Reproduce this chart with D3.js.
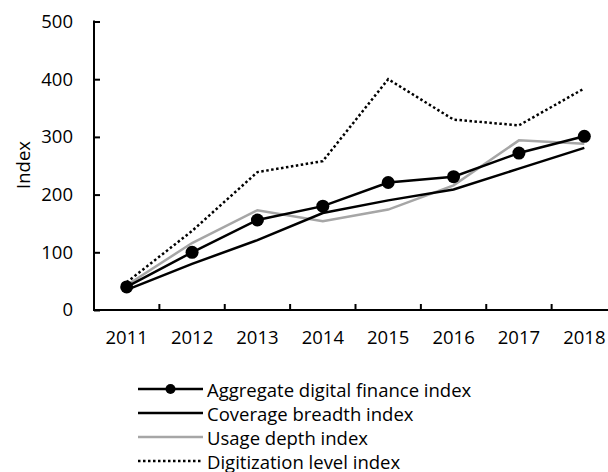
<!DOCTYPE html>
<html><head><meta charset="utf-8">
<script src="https://cdn.jsdelivr.net/npm/d3@7"></script>
<style>body{margin:0;background:#fff}svg{display:block}text{font-family:"Open Sans",sans-serif;fill:#000}</style>
</head><body><svg id="c" width="608" height="472"></svg>
<script>
const years = ["2011","2012","2013","2014","2015","2016","2017","2018"];
const aggregate = [40, 100, 156, 180, 221, 231, 272, 301];
const coverage = [35, 80, 121, 168, 190, 209, 245, 281];
const usage = [43, 116, 173, 154, 174, 216, 294, 288];
const digitization = [48, 137, 239, 258, 400, 330, 320, 384];
const yTicks = [0, 100, 200, 300, 400, 500];
const seriesNames = ["Aggregate digital finance index","Coverage breadth index","Usage depth index","Digitization level index"];

const svg = d3.select("#c");
const fs = "18.5px";
const x = d3.scaleBand().domain(years).range([94, 617]);
const y = d3.scaleLinear().domain([0, 500]).range([310, 21.5]);

// axes
const yAxis = svg.append("g").attr("transform","translate(94,0)")
  .call(d3.axisLeft(y).tickValues(yTicks).tickSize(-6).tickPadding(21));
yAxis.select(".domain").remove();
yAxis.selectAll(".tick line").attr("stroke","#000").attr("stroke-width",2);
yAxis.selectAll("text").style("font-size",fs).style("font-family","Open Sans");

const xAxis = svg.append("g").attr("transform","translate(0,310)")
  .call(d3.axisBottom(x).tickSize(0).tickPadding(21));
xAxis.select(".domain").remove();
xAxis.selectAll("text").style("font-size",fs).style("font-family","Open Sans");
// inward ticks at band boundaries
svg.append("g").selectAll("line").data(years).join("line")
  .attr("x1",d=>x(d) + x.step()).attr("x2",d=>x(d) + x.step())
  .attr("y1",310).attr("y2",304).attr("stroke","#000").attr("stroke-width",2);
svg.append("line").attr("x1",94).attr("x2",94).attr("y1",y(500)-1).attr("y2",311)
  .attr("stroke","#000").attr("stroke-width",2);
svg.append("line").attr("x1",93).attr("x2",617).attr("y1",310).attr("y2",310)
  .attr("stroke","#000").attr("stroke-width",2);

svg.append("text").attr("transform","translate(22,165) rotate(-90)")
  .attr("text-anchor","middle").attr("dominant-baseline","central")
  .style("font-size",fs).text("Index");

const cx = d => x(d) + x.bandwidth()/2;
const line = d3.line().x((d,i)=>cx(years[i])).y(d=>y(d));

const styles = [
  {data: aggregate, color:"#000", dash:null, marker:true},
  {data: coverage, color:"#000", dash:null, marker:false},
  {data: usage, color:"#a6a6a6", dash:null, marker:false},
  {data: digitization, color:"#000", dash:"2.5,2.5", marker:false}
];
const order = [3,2,1,0];
order.forEach(k=>{
  const s = styles[k];
  svg.append("path").attr("d", line(s.data)).attr("fill","none")
    .attr("stroke", s.color).attr("stroke-width", 2.5)
    .attr("stroke-dasharray", s.dash).attr("stroke-linejoin","miter");
  if (s.marker) {
    svg.append("g").selectAll("circle").data(s.data).join("circle")
      .attr("cx",(d,i)=>cx(years[i])).attr("cy",d=>y(d)).attr("r",6.5).attr("fill","#000");
  }
});

// legend
const legY = [389, 413, 437, 461];
const lg = svg.append("g");
seriesNames.forEach((n,i)=>{
  const s = styles[i];
  lg.append("line").attr("x1",138).attr("x2",203).attr("y1",legY[i]).attr("y2",legY[i])
    .attr("stroke",s.color).attr("stroke-width",2.5).attr("stroke-dasharray",s.dash);
  if (s.marker) lg.append("circle").attr("cx",170.5).attr("cy",legY[i]).attr("r",5).attr("fill","#000");
  lg.append("text").attr("x",207).attr("y",legY[i]).attr("dominant-baseline","central")
    .style("font-size",fs).text(n);
});
</script></body></html>
